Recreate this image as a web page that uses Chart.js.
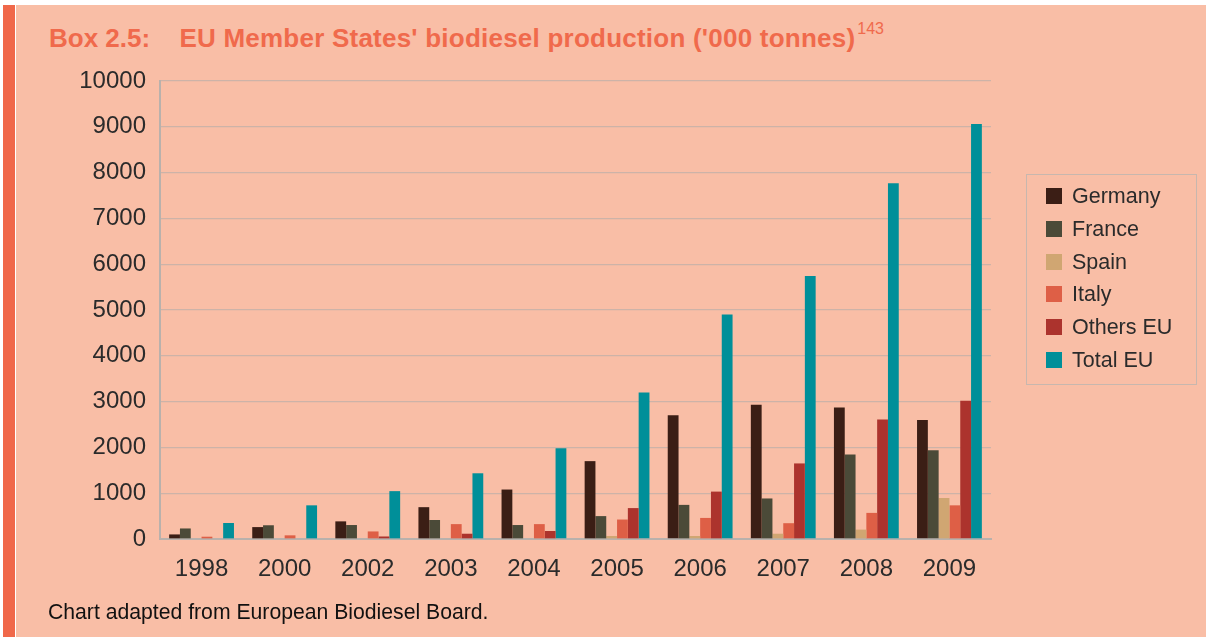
<!DOCTYPE html>
<html>
<head>
<meta charset="utf-8">
<script src="https://cdn.jsdelivr.net/npm/chart.js@4/dist/chart.umd.min.js"></script>
<style>
  html, body { margin:0; padding:0; background:#ffffff; }
  body { width:1206px; height:637px; position:relative; overflow:hidden; font-family:"Liberation Sans", Arial, sans-serif; }
  #bar { position:absolute; left:3px; top:5px; width:12px; height:632px; background:#F0684A; }
  #panel { position:absolute; left:16px; top:5px; width:1190px; height:632px; background:#F9BEA6; }
  #title { position:absolute; left:49px; top:25px; font-size:26px; line-height:26px; font-weight:bold; color:#F06A4C; white-space:nowrap; }
  #title .gap { display:inline-block; width:22px; }
  #title .main { letter-spacing:0.23px; }
  #title sup { font-size:16px; font-weight:normal; vertical-align:0; position:relative; top:-13px; margin-left:2px; }
  #note { position:absolute; left:48px; top:601px; font-size:21.2px; line-height:21px; color:#111; white-space:nowrap; }
  #wrap { position:absolute; left:0; top:0; width:1206px; height:637px; }
  #legend { position:absolute; left:1026px; top:174px; width:171px; height:211px; border:1px solid #C8B7AE; box-sizing:border-box; }
  .li { position:absolute; left:0; height:22px; }
  .sw { position:absolute; left:19px; top:3px; width:16px; height:16px; }
  .lt { position:absolute; left:45px; top:0; font-size:21.5px; line-height:22px; color:#2b2b2b; white-space:nowrap; }
</style>
</head>
<body>
<div id="bar"></div>
<div id="panel"></div>
<div id="title">Box 2.5:<span class="gap"></span> <span class="main">EU Member States' biodiesel production ('000 tonnes)</span><sup>143</sup></div>
<div id="wrap"><canvas id="c" width="1206" height="637"></canvas></div>
<div id="legend"></div>
<div id="note">Chart adapted from European Biodiesel Board.</div>
<script>
const years   = ['1998','2000','2002','2003','2004','2005','2006','2007','2008','2009'];
const germany = [100, 260, 385, 695, 1080, 1700, 2700, 2930, 2870, 2600];
const france  = [230, 300, 305, 415, 305, 500, 745, 885, 1845, 1940];
const spain   = [0, 0, 0, 0, 0, 65, 65, 115, 205, 895];
const italy   = [50, 80, 165, 325, 325, 425, 460, 345, 570, 735];
const others  = [0, 0, 55, 115, 175, 675, 1035, 1650, 2610, 3020];
const total   = [350, 735, 1045, 1435, 1980, 3200, 4900, 5740, 7770, 9060];
const seriesNames = ['Germany','France','Spain','Italy','Others EU','Total EU'];
const seriesColors = ['#3B1E15','#4B4A38','#D0A672','#DE5F46','#AC332D','#008F99'];
const seriesData = [germany, france, spain, italy, others, total];
const yMin = 0, yMax = 10000, yStep = 1000;

const datasets = seriesNames.map((n,i)=>({
  label:n, data:seriesData[i], backgroundColor:seriesColors[i],
  borderWidth:0, categoryPercentage:0.78, barPercentage:1.0
}));

const font = {family:'"Liberation Sans", Arial, sans-serif', size:24};
const chart = new Chart(document.getElementById('c'), {
  type:'bar',
  data:{labels:years, datasets:datasets},
  options:{
    responsive:false, animation:false,
    layout:{padding:{left:0, right:215, top:81, bottom:0}},
    plugins:{legend:{display:false}, tooltip:{enabled:false}},
    scales:{
      x:{
        grid:{display:false, drawTicks:false},
        border:{display:true, color:'#B9B1AC', width:2},
        ticks:{font:font, color:'#2b2b2b', padding:16},
        afterFit:(s)=>{ s.height = 98; }
      },
      y:{
        min:yMin, max:yMax,
        grid:{color:'#CDB3A8', lineWidth:1.3, drawTicks:false},
        border:{display:true, color:'#B9B1AC', width:2},
        ticks:{stepSize:yStep, font:font, color:'#2b2b2b', padding:14,
               callback:(v)=>String(v)},
        afterFit:(s)=>{ s.width = 160; }
      }
    }
  }
});

const lg = document.getElementById('legend');
chart.data.datasets.forEach((d,i)=>{
  const row = document.createElement('div');
  row.className='li';
  row.style.top = (10 + i*32.8) + 'px';
  row.style.width='160px';
  const sw = document.createElement('div'); sw.className='sw'; sw.style.background=d.backgroundColor;
  const t = document.createElement('div'); t.className='lt'; t.textContent=d.label;
  row.appendChild(sw); row.appendChild(t); lg.appendChild(row);
});
</script>
</body>
</html>
